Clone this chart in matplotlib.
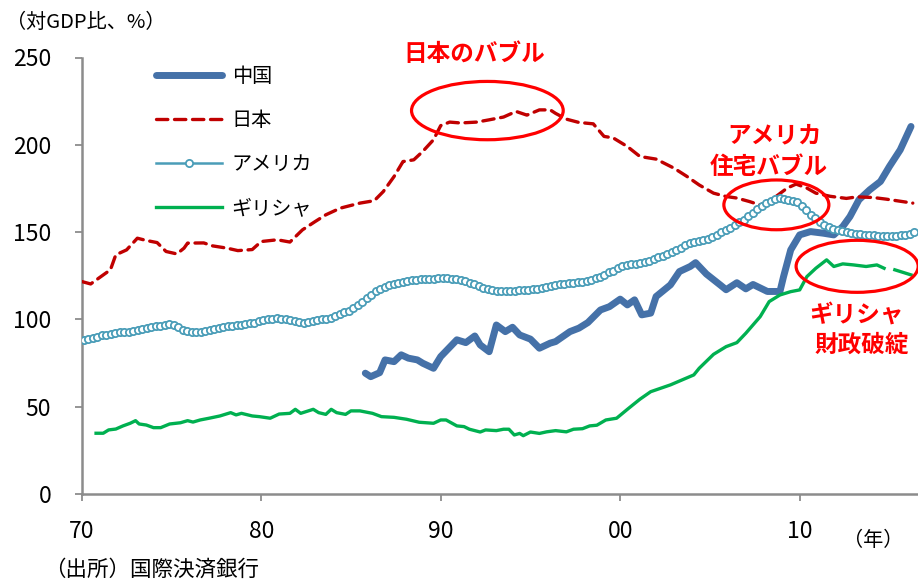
import numpy as np
import matplotlib
matplotlib.use("Agg")
import matplotlib.pyplot as plt
from matplotlib.patches import Ellipse

plt.rcParams['font.family'] = ['Noto Sans CJK JP', 'DejaVu Sans']

# ---- data: debt to GDP ratio (%) ----
series_names = ["中国", "日本", "アメリカ", "ギリシャ"]

china_years = [1985.8, 1986.1, 1986.6, 1986.9, 1987.4, 1987.8, 1988.2, 1988.7, 1989.0, 1989.6,
               1990.0, 1990.9, 1991.4, 1991.9, 1992.2, 1992.7, 1993.1, 1993.6, 1994.0, 1994.4,
               1995.0, 1995.5, 1996.1, 1996.4, 1997.2, 1997.7, 1998.2, 1998.9, 1999.4, 2000.0,
               2000.4, 2000.8, 2001.2, 2001.7, 2002.0, 2002.8, 2003.3, 2003.9, 2004.2, 2004.8,
               2005.6, 2005.9, 2006.5, 2007.0, 2007.4, 2007.6, 2008.2, 2008.9, 2009.1, 2009.5,
               2010.0, 2010.6, 2011.3, 2011.9, 2012.4, 2012.8, 2013.3, 2013.9, 2014.5, 2015.0,
               2015.6, 2016.2]
china_values = [69.2, 67.2, 69.5, 76.8, 75.8, 79.7, 77.8, 76.8, 74.9, 72.0,
                78.7, 88.3, 86.7, 90.5, 85.4, 81.5, 96.8, 93.0, 95.5, 91.1,
                88.7, 83.5, 86.4, 87.3, 93.0, 95.0, 98.2, 105.4, 107.3, 111.6,
                108.3, 111.2, 102.6, 103.6, 113.1, 119.8, 127.4, 130.3, 132.5, 126.0,
                119.5, 117.0, 121.0, 117.5, 120.0, 119.0, 116.0, 116.0, 124.5, 139.8,
                148.4, 150.3, 149.4, 148.4, 153.2, 158.9, 168.5, 174.2, 179.0, 187.6,
                197.1, 210.5]

japan_years = [1970.0, 1970.5, 1971.0, 1971.6, 1971.9, 1972.5, 1973.1, 1973.6, 1974.2, 1974.7,
               1975.3, 1975.7, 1975.9, 1976.8, 1977.3, 1978.1, 1978.7, 1979.5, 1980.0, 1980.9,
               1981.6, 1982.3, 1983.0, 1983.6, 1984.4, 1985.5, 1986.3, 1986.8, 1987.4, 1987.9,
               1988.5, 1989.0, 1989.6, 1990.0, 1990.5, 1991.1, 1992.0, 1992.7, 1993.5, 1994.2,
               1994.8, 1995.5, 1996.1, 1996.4, 1997.0, 1997.7, 1998.5, 1999.1, 1999.6, 2000.4,
               2001.1, 2002.0, 2003.0, 2003.7, 2004.4, 2005.2, 2005.9, 2006.5, 2007.2, 2007.8,
               2008.5, 2009.3, 2009.8, 2010.4, 2010.9, 2011.7, 2012.6, 2013.2, 2014.1, 2014.8,
               2016.3]
japan_values = [121.7, 120.3, 124.0, 128.4, 137.0, 139.8, 146.5, 145.2, 144.0, 138.9,
                137.5, 140.8, 143.7, 143.8, 142.1, 140.8, 139.4, 140.0, 144.6, 145.6,
                144.3, 151.3, 156.0, 159.9, 163.7, 166.6, 168.0, 173.2, 181.8, 190.4,
                191.4, 196.2, 202.9, 211.0, 213.0, 212.5, 213.0, 214.3, 215.9, 219.1,
                217.0, 220.0, 220.0, 218.0, 214.7, 212.8, 212.0, 204.8, 204.0, 199.0,
                193.3, 191.8, 186.6, 182.0, 177.0, 172.3, 170.4, 169.5, 167.5, 165.5,
                169.0, 175.2, 177.5, 175.2, 172.3, 170.5, 169.3, 170.2, 169.8, 168.9,
                166.6]

# United States: quarterly, 1970Q1 - 2016Q2
us_start_year = 1970
us_values = [
    88.0, 89.0, 89.5, 90.0,   91.0, 91.0, 91.5, 92.0,   92.5, 93.0, 93.0, 93.5,
    94.0, 94.5, 95.0, 95.5,   96.0, 96.5, 97.0, 97.5,   97.0, 95.5, 94.0, 93.5,
    93.0, 92.5, 93.0, 93.5,   94.0, 94.5, 95.0, 95.5,   96.0, 96.5, 97.0, 97.0,
    97.5, 98.0, 98.0, 99.0,   99.5, 100.0, 100.5, 101.0,  100.5, 100.0, 99.5, 99.0,
    98.5, 98.0, 98.5, 99.0,   99.5, 100.0, 100.5, 101.0,  102.0, 103.0, 104.0, 105.0,
    106.5, 108.0, 110.0, 112.0,  114.0, 116.0, 117.5, 118.5,  119.5, 120.5, 121.0, 121.5,
    122.0, 122.5, 122.5, 123.0,  123.0, 123.0, 123.0, 123.5,  123.5, 123.5, 123.0, 123.0,
    122.5, 122.0, 121.0, 120.0,  119.0, 118.0, 117.5, 117.0,  116.5, 116.5, 116.5, 116.5,
    116.5, 117.0, 117.0, 117.0,  117.5, 117.5, 118.0, 118.5,  119.0, 119.5, 120.0, 120.5,
    121.0, 121.0, 121.5, 121.5,  122.0, 122.5, 123.5, 124.5,  125.5, 127.0, 128.0, 129.5,
    130.5, 131.0, 131.5, 132.0,  132.5, 133.0, 133.5, 134.5,  135.5, 136.5, 137.5, 138.5,
    139.5, 141.0, 142.5, 144.0,  144.5, 145.0, 145.5, 146.0,  147.0, 148.5, 150.0, 151.0,
    152.5, 154.0, 155.5, 157.0,  159.0, 161.0, 163.0, 165.0,  166.5, 168.0, 169.0, 169.5,
    169.0, 168.5, 168.0, 167.0,  165.0, 162.5, 160.0, 158.0,  156.0, 154.0, 153.0, 152.0,
    151.0, 150.5, 150.0, 149.5,  149.0, 149.0, 148.5, 148.5,  148.5, 148.0, 148.0, 147.5,
    147.5, 148.0, 148.5, 148.5,  149.0, 150.0,
]
us_years = us_start_year + 0.125 + 0.25 * np.arange(len(us_values))

greece_years = [1970.8, 1971.2, 1971.5, 1971.9, 1972.3, 1972.7, 1973.0, 1973.2, 1973.6, 1974.0,
                1974.4, 1974.9, 1975.5, 1975.9, 1976.2, 1976.6, 1977.1, 1977.7, 1978.3, 1978.6,
                1978.9, 1979.5, 1979.9, 1980.5, 1981.0, 1981.6, 1981.9, 1982.2, 1982.9, 1983.2,
                1983.6, 1983.9, 1984.2, 1984.7, 1985.0, 1985.5, 1986.2, 1986.7, 1987.4, 1988.1,
                1988.8, 1989.6, 1990.0, 1990.3, 1990.9, 1991.3, 1991.6, 1992.2, 1992.5, 1993.1,
                1993.5, 1993.8, 1994.1, 1994.4, 1994.6, 1995.0, 1995.5, 1995.9, 1996.4, 1997.0,
                1997.4, 1997.9, 1998.3, 1998.7, 1999.2, 1999.8, 2000.4, 2000.7, 2001.1, 2001.7,
                2002.8, 2004.1, 2004.4, 2005.2, 2005.9, 2006.5, 2007.0, 2007.8, 2008.3, 2008.9,
                2009.5, 2010.0, 2010.4, 2010.9, 2011.5, 2011.9, 2012.4, 2013.0, 2013.7, 2014.3,
                2014.7, 2015.0, 2015.3, 2016.2]
greece_values = [34.8, 34.8, 36.7, 37.2, 39.0, 40.5, 42.0, 40.1, 39.5, 38.0,
                 38.0, 40.1, 40.8, 42.0, 41.2, 42.4, 43.4, 44.7, 46.6, 45.3,
                 46.2, 44.7, 44.3, 43.4, 45.8, 46.2, 48.5, 46.2, 48.5, 46.6,
                 45.6, 48.5, 46.6, 45.6, 47.6, 47.6, 46.2, 44.3, 43.9, 42.8,
                 41.1, 40.5, 42.4, 42.4, 39.0, 38.6, 37.1, 35.5, 36.7, 36.3,
                 37.1, 37.1, 33.8, 34.7, 33.4, 35.5, 34.7, 35.6, 36.3, 35.6,
                 37.1, 37.4, 39.0, 39.4, 42.4, 43.4, 48.5, 51.0, 54.3, 58.6,
                 62.5, 68.2, 72.0, 80.0, 84.4, 86.7, 92.1, 101.6, 110.2, 114.0,
                 115.9, 116.9, 124.5, 129.3, 134.1, 130.3, 131.8, 131.2, 130.3, 131.2,
                 129.3, np.nan, 128.4, 125.5]

x_ticks = [1970, 1980, 1990, 2000, 2010]
x_tick_labels = ["70", "80", "90", "00", "10"]
y_ticks = [0, 50, 100, 150, 200, 250]

# ---- figure layout ----
W, H = 918, 583
fig = plt.figure(figsize=(W / 100, H / 100), dpi=100)


def fpos(x, y):
    """pixel position -> figure fraction"""
    return x / W, 1 - y / H


ax_left, ax_right, ax_top, ax_bottom = 81.7, 918, 57.5, 494
ax = fig.add_axes([ax_left / W, 1 - ax_bottom / H,
                   (ax_right - ax_left) / W, (ax_bottom - ax_top) / H])

x_end = 1970 + (ax_right - ax_left) / 17.95
ax.set_xlim(1970, x_end)
ax.set_ylim(0, 250)

axis_grey = "#8c8c8c"
for side in ("top", "right"):
    ax.spines[side].set_visible(False)
for side in ("left", "bottom"):
    ax.spines[side].set_color(axis_grey)
    ax.spines[side].set_linewidth(1.8)

ax.set_xticks(x_ticks)
ax.set_xticklabels(x_tick_labels)
ax.set_yticks(y_ticks)
ax.tick_params(axis="y", direction="out", length=5, width=1.3, color=axis_grey,
               pad=17, labelsize=16.5, labelcolor="black")
ax.tick_params(axis="x", direction="out", length=5, width=1.3, color=axis_grey,
               pad=14, labelsize=16.5, labelcolor="black")

# ---- series ----
l_china, = ax.plot(china_years, china_values, color="#4571A8", lw=5.0,
                   solid_capstyle="round", solid_joinstyle="round", zorder=3)
l_japan, = ax.plot(japan_years, japan_values, color="#C00000", lw=2.4,
                   dashes=(3.4, 2.0), dash_capstyle="round", zorder=4)
l_us, = ax.plot(us_years, us_values, color="#4A9DB8", lw=1.8, marker="o",
                markersize=5.2, markerfacecolor="white", markeredgecolor="#4A9DB8",
                markeredgewidth=1.3, zorder=5)
l_greece, = ax.plot(greece_years, greece_values, color="#00B050", lw=2.4,
                    solid_joinstyle="round", zorder=6)

leg = ax.legend([l_china, l_japan, l_us, l_greece], series_names,
                loc="upper left", bbox_to_anchor=fpos(156, 66),
                bbox_transform=fig.transFigure, frameon=False,
                fontsize=14.5, handlelength=3.3, handletextpad=0.45,
                labelspacing=1.14, borderpad=0, borderaxespad=0)

# ---- annotations ----
red = "#FF0000"
ann_kw = dict(color=red, fontsize=17, fontweight="bold", ha="center", va="center")
fig.text(*fpos(474, 54), "日本のバブル", **ann_kw)
fig.text(*fpos(775, 135), "アメリカ", **ann_kw)
fig.text(*fpos(769, 167), "住宅バブル", **ann_kw)
fig.text(*fpos(856, 315), "ギリシャ", **ann_kw)
fig.text(*fpos(862, 345), "財政破綻", **ann_kw)

ell_kw = dict(fill=False, edgecolor=red, lw=2.3, zorder=7, clip_on=False)
ax.add_patch(Ellipse((1992.6, 219.6), 8.45, 33.4, **ell_kw))
ax.add_patch(Ellipse((2008.7, 165.6), 5.85, 28.5, **ell_kw))
ax.add_patch(Ellipse((2013.2, 130.4), 6.8, 29.8, **ell_kw))

# ---- axis captions ----
fig.text(*fpos(6, 22), "（対GDP比、%）", fontsize=14.5, ha="left", va="center")
fig.text(*fpos(843, 541), "（年）", fontsize=14.5, ha="left", va="center")
fig.text(*fpos(44, 570), "（出所）国際決済銀行", fontsize=15.5, ha="left", va="center")

fig.savefig("out.png", dpi=100)
